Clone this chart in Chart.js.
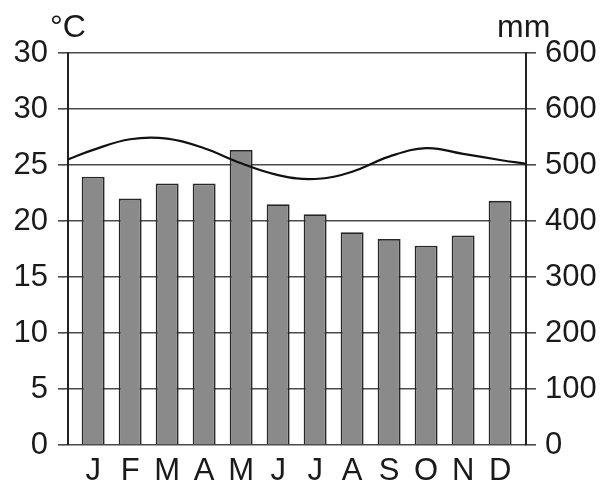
<!DOCTYPE html>
<html>
<head>
<meta charset="utf-8">
<script src="https://cdn.jsdelivr.net/npm/chart.js@4.4.0/dist/chart.umd.min.js"></script>
<style>
  html, body { margin: 0; padding: 0; background: #fff; }
  #wrap { width: 608px; height: 490px; }
</style>
</head>
<body>
<div id="wrap"><canvas id="clima"></canvas></div>
<script>
var months = ['J', 'F', 'M', 'A', 'M', 'J', 'J', 'A', 'S', 'O', 'N', 'D'];
var rainMm = [479, 440, 467, 467, 527, 430, 412, 380, 368, 356, 374, 436];   // precipitazioni (asse destro)
var tempC = [26.35, 27.3, 27.35, 26.5, 25.15, 24.1, 23.75, 24.4, 25.75, 26.5, 26.0, 25.45]; // temperatura (asse sinistro)
var tempEdge = [25.5, 25.1];   // valore della curva sul bordo sinistro e destro del riquadro
var xRange = [-0.68, 11.7];    // il riquadro va un po' oltre gennaio e dicembre

var tempTicks = [0, 5, 10, 15, 20, 25, 30, 35];
var tempLabels = ['0', '5', '10', '15', '20', '25', '30', '30'];
var rainTicks = [0, 100, 200, 300, 400, 500, 600, 700];
var rainLabels = ['0', '100', '200', '300', '400', '500', '600', '600'];

// punti della curva (con i bordi) e delle barre
var tempPoints = [{x: xRange[0], y: tempEdge[0]}];
tempC.forEach(function(t, i) { tempPoints.push({x: i, y: t}); });
tempPoints.push({x: xRange[1], y: tempEdge[1]});
var rainPoints = rainMm.map(function(r, i) { return {x: i, y: r}; });

var font = {family: 'Liberation Sans, Arial, sans-serif', size: 31};

// scritte delle unità sopra gli assi
var unitTitles = {
  id: 'unitTitles',
  afterDraw: function(chart) {
    var ctx = chart.ctx;
    ctx.save();
    ctx.fillStyle = '#1a1a1a';
    ctx.font = '32px Liberation Sans, Arial, sans-serif';
    ctx.textBaseline = 'alphabetic';
    ctx.textAlign = 'left';
    ctx.fillText('°C', 50, 37);
    ctx.fillText('mm', 497, 37);
    ctx.restore();
  }
};

new Chart(document.getElementById('clima'), {
  data: {
    datasets: [
      {
        type: 'line',
        data: tempPoints,
        yAxisID: 'y',
        borderColor: '#111',
        borderWidth: 2.2,
        pointRadius: 0,
        tension: 0.4,
        order: 0
      },
      {
        type: 'bar',
        data: rainPoints,
        yAxisID: 'y1',
        backgroundColor: '#8a8a8a',
        borderColor: '#262626',
        borderWidth: 1.8,
        categoryPercentage: 1,
        barPercentage: 0.62,
        order: 1
      }
    ]
  },
  options: {
    responsive: true,
    maintainAspectRatio: false,
    animation: false,
    layout: {padding: {top: 53, left: 0, right: 0, bottom: 0}},
    plugins: {legend: {display: false}, tooltip: {enabled: false}},
    scales: {
      x: {
        type: 'linear',
        offset: false,
        min: xRange[0],
        max: xRange[1],
        afterBuildTicks: function(axis) { axis.ticks = months.map(function(m, i) { return {value: i}; }); },
        afterFit: function(axis) { axis.height = 45; },
        grid: {display: false, drawTicks: false},
        border: {display: false},
        ticks: {
          font: font, color: '#1a1a1a', padding: 8, maxRotation: 0, autoSkip: false,
          callback: function(v) { return months[v]; }
        }
      },
      y: {
        position: 'left',
        min: 0, max: 35,
        afterBuildTicks: function(axis) { axis.ticks = tempTicks.map(function(v) { return {value: v}; }); },
        afterFit: function(axis) { axis.width = 68; },
        grid: {color: '#4a4a4a', lineWidth: 1.6, tickLength: 10},
        border: {display: true, color: '#222', width: 2},
        ticks: {
          font: font, color: '#1a1a1a', padding: 10,
          callback: function(v) { return tempLabels[tempTicks.indexOf(v)]; }
        }
      },
      y1: {
        position: 'right',
        min: 0, max: 700,
        afterBuildTicks: function(axis) { axis.ticks = rainTicks.map(function(v) { return {value: v}; }); },
        afterFit: function(axis) { axis.width = 82; },
        grid: {drawOnChartArea: false, color: '#4a4a4a', lineWidth: 1.6, tickLength: 10},
        border: {display: true, color: '#222', width: 2},
        ticks: {
          font: font, color: '#1a1a1a', padding: 9,
          callback: function(v) { return rainLabels[rainTicks.indexOf(v)]; }
        }
      }
    }
  },
  plugins: [unitTitles]
});
</script>
</body>
</html>
